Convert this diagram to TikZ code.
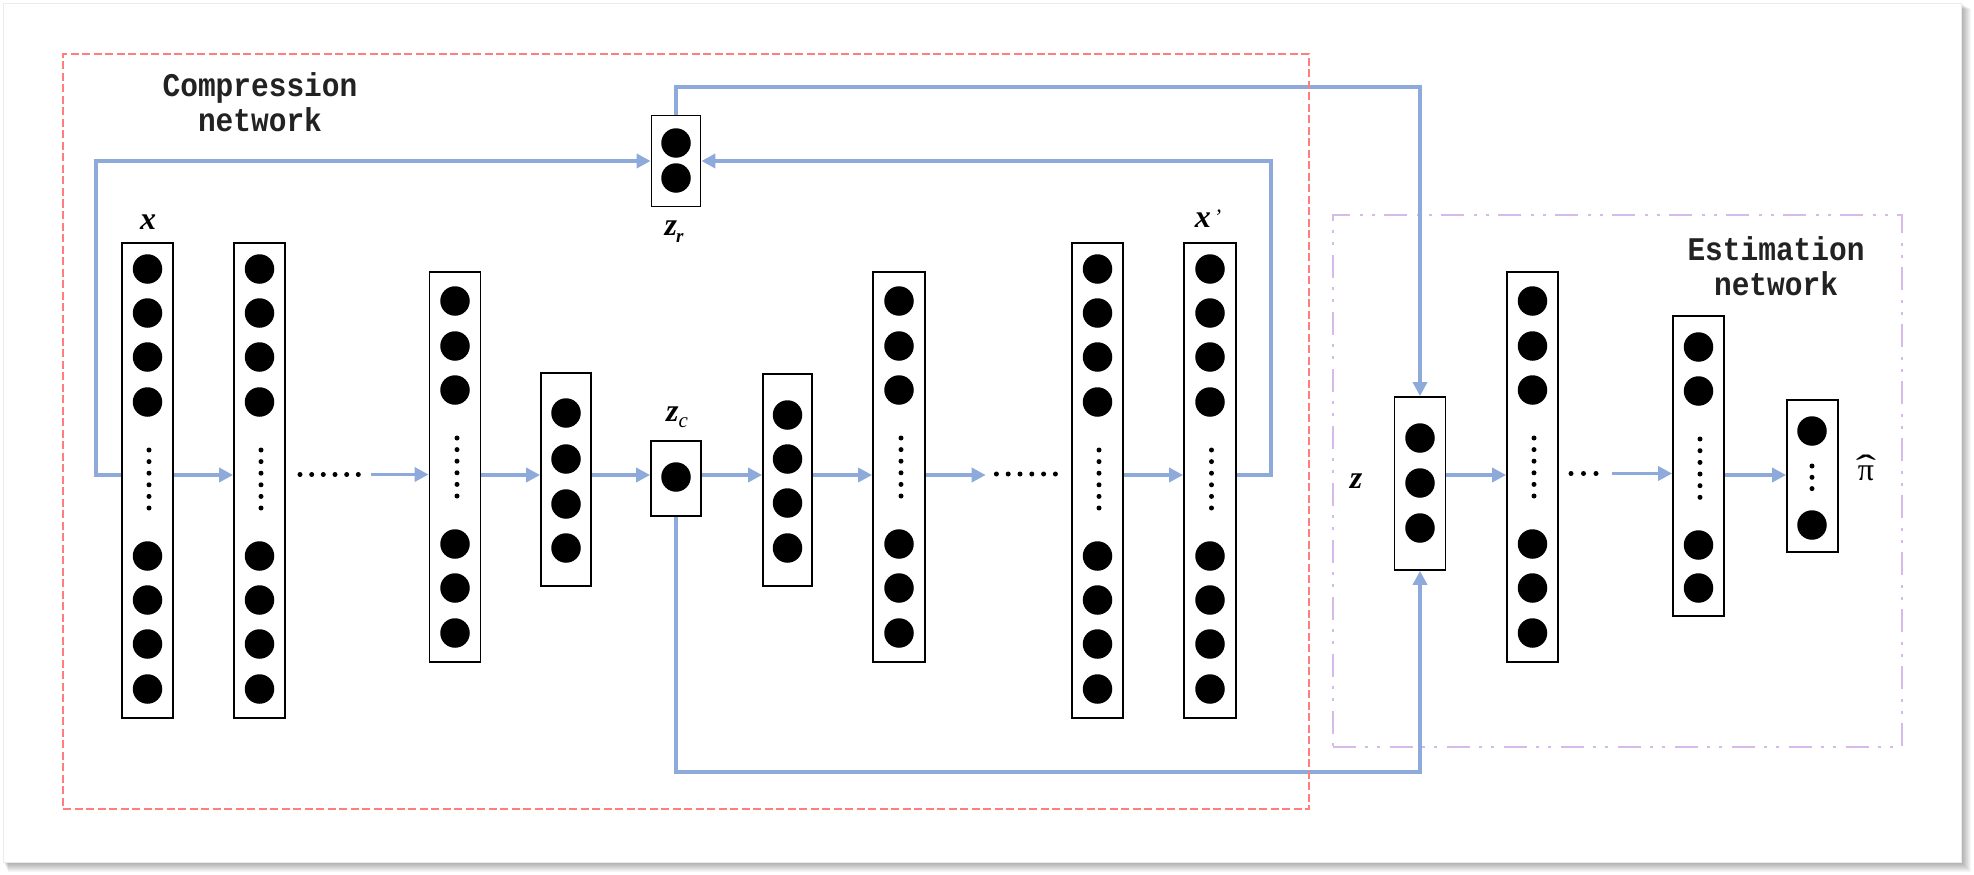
\documentclass[tikz,border=0pt]{standalone}
\usepackage{fontspec}
\usetikzlibrary{arrows.meta}
\newfontfamily\lmonofont{Liberation Mono}
\newfontfamily\lseriffont{Liberation Serif}
\definecolor{conncol}{RGB}{142,170,219}
\definecolor{redbox}{RGB}{255,125,125}
\definecolor{purplebox}{RGB}{214,186,234}
\definecolor{titlecol}{RGB}{34,34,34}
\newcommand\neurons[3]{\foreach \yy [count=\i] in {#3} \node[neuron] (#1n\i) at (#2,\yy) {};}
\newcommand\vdotsat[3]{\foreach \yy [count=\i] in {#3} \node[dotn] (#1d\i) at (#2,\yy) {};}
\newcommand\hdotsat[3]{\foreach \xx [count=\i] in {#3} \node[dotn] (#1d\i) at (\xx,#2) {};}
\begin{document}
\begin{tikzpicture}[x=1pt,y=-1pt,
  layer/.style={draw=black, line width=1.8pt, fill=white, minimum width=51pt, inner sep=0pt},
  neuron/.style={circle, fill=black, minimum size=29.5pt, inner sep=0pt},
  dotn/.style={circle, fill=black, minimum size=5pt, inner sep=0pt},
  dotgroup/.style={minimum height=6pt, inner sep=0pt},
  conn/.style={draw=conncol, line width=3.8pt},
  connarrow/.style={conn, -{Triangle[length=14pt,width=14pt]}},
  title/.style={font=\lmonofont\bfseries\fontsize{29.5}{35}\selectfont, text=titlecol, anchor=base, inner sep=0pt},
  lab/.style={font=\lseriffont\bfseries\itshape\fontsize{32}{36}\selectfont, inner sep=0pt},
]
\useasboundingbox (0,0) rectangle (1974,875);
% card with shadow
\fill[white] (0,0) rectangle (1974,875);
\foreach \k in {1,...,10} \fill[black, opacity=0.035] (3+\k*0.5,3+\k*0.6) rectangle (1961+\k,862+\k);
\draw[fill=white, draw=black!8, line width=0.8pt] (3,3) rectangle (1961,862);

% estimation frame
\node[draw=purplebox, line width=2.6pt, dash pattern=on 23pt off 9pt on 3pt off 9pt on 3pt off 10pt,
      minimum width=569pt, minimum height=532pt, inner sep=0pt] (ebox) at (1617.5,481) {};

% titles
\node[title] (ct1) at (260,96.7) {\scalebox{1}[1.12]{Compression}};
\node[title] (ct2) at (260,131.7) {\scalebox{1}[1.12]{network}};
\node[title] (et1) at (1776,260) {\scalebox{1}[1.12]{Estimation}};
\node[title] (et2) at (1776,295) {\scalebox{1}[1.12]{network}};

% compression layers
\node[layer, minimum height=475pt] (L1) at (147.5,480.5) {};
\neurons{L1}{147.5}{269,313,357,402,556,600,644,689}
\vdotsat{L1}{149}{450,461.6,473.2,484.8,496.4,508}

\node[layer, minimum height=475pt] (L2) at (259.5,480.5) {};
\neurons{L2}{259.5}{269,313,357,402,556,600,644,689}
\vdotsat{L2}{261}{450,461.6,473.2,484.8,496.4,508}

\node[dotgroup, minimum width=63pt] (hd1) at (329.2,474.5) {};
\hdotsat{hd1}{474.5}{300,311.7,323.3,335,346.7,358.3}

\node[layer, minimum height=390pt] (L3) at (455,467) {};
\neurons{L3}{455}{301,346,390,544,588,633}
\vdotsat{L3}{457}{438,449.6,461.2,472.8,484.4,496}

\node[layer, minimum height=213pt, minimum width=50pt] (L4) at (566,479.5) {};
\neurons{L4}{566}{413,459,504,548}

\node[layer, minimum height=75pt, minimum width=50pt] (zc) at (676,478.5) {};
\neurons{zc}{676}{477}

\node[layer, minimum height=91pt, minimum width=49pt] (zr) at (676,161) {};
\neurons{zr}{676}{143,178}

\node[layer, minimum height=212pt, minimum width=49pt] (L5) at (787.5,480) {};
\neurons{L5}{787.5}{415,459,503,548}

\node[layer, minimum height=390pt, minimum width=52pt] (L6) at (899,467) {};
\neurons{L6}{899}{301,346,390,544,588,633}
\vdotsat{L6}{901}{438,449.6,461.2,472.8,484.4,496}

\node[dotgroup, minimum width=64pt] (hd2) at (1025.9,474) {};
\hdotsat{hd2}{474}{996.4,1008.2,1020,1031.8,1043.6,1055.4}

\node[layer, minimum height=475pt] (L7) at (1097.5,480.5) {};
\neurons{L7}{1097.5}{269,313,357,402,556,600,644,689}
\vdotsat{L7}{1099}{450,461.6,473.2,484.8,496.4,508}

\node[layer, minimum height=475pt, minimum width=52pt] (L8) at (1210,480.5) {};
\neurons{L8}{1210}{269,313,357,402,556,600,644,689}
\vdotsat{L8}{1211.5}{450,461.6,473.2,484.8,496.4,508}

% estimation layers
\node[layer, minimum height=173pt] (z) at (1420,483.5) {};
\neurons{z}{1420}{438,483,528}

\node[layer, minimum height=390pt] (E1) at (1532.5,467) {};
\neurons{E1}{1532.5}{301,346,390,544,588,633}
\vdotsat{E1}{1534}{438,449.6,461.2,472.8,484.4,496}

\node[dotgroup, minimum width=30pt] (hd3) at (1583.5,473.5) {};
\hdotsat{hd3}{473.5}{1571,1583.5,1596}

\node[layer, minimum height=300pt] (E2) at (1698.5,466) {};
\neurons{E2}{1698.5}{347,391,545,588}
\vdotsat{E2}{1700}{439,450.7,462.4,474,485.7,497.3}

\node[layer, minimum height=152pt] (E3) at (1812.5,476) {};
\neurons{E3}{1812}{431,525}
\vdotsat{E3}{1812}{466,477.3,488.6}

% labels
\node[lab] (xlab) at (148,222) {x};
\node[lab] (xplab) at (1208,219) {x\kern3pt\raisebox{3pt}{\fontseries{m}\fontsize{22}{22}\selectfont ’}};
\node[lab] (zrlab) at (674,232) {z\kern-1pt\raisebox{-7pt}{\fontsize{19}{19}\selectfont r}};
\node[lab] (zclab) at (677,417) {z\raisebox{-6pt}{\fontseries{m}\fontsize{21}{21}\selectfont c}};
\node[lab] (zlab) at (1356,481) {z};
\node[font=\lseriffont\fontsize{32}{36}\selectfont, inner sep=0pt] (pilab) at (1866,473)
  {\ooalign{π\cr\hidewidth\raisebox{1pt}{\scalebox{1.9}[1.1]{ˆ}}\hidewidth\cr}};

% connectors
\coordinate (axis) at (0,475);
\coordinate (fbL) at (96,161);
\coordinate (fbR) at (1271,161);
\coordinate (topR) at (1420,87);
\coordinate (botR) at (1420,772);

\draw[connarrow] (L1.east |- axis) -- (L2.west |- axis);
\draw[connarrow, shorten <=10pt] (hd1.east) -- (L3.west |- hd1.east);
\draw[connarrow] (L3.east |- axis) -- (L4.west |- axis);
\draw[connarrow] (L4.east |- axis) -- (zc.west |- axis);
\draw[connarrow] (zc.east |- axis) -- (L5.west |- axis);
\draw[connarrow] (L5.east |- axis) -- (L6.west |- axis);
\draw[connarrow, shorten >=8pt] (L6.east |- axis) -- (hd2.west |- axis);
\draw[connarrow] (L7.east |- axis) -- (L8.west |- axis);
\draw[connarrow] (z.east |- axis) -- (E1.west |- axis);
\draw[connarrow, shorten <=13pt] (hd3.east) -- (E2.west |- hd3.east);
\draw[connarrow] (E2.east |- axis) -- (E3.west |- axis);

\draw[connarrow] (L1.west |- axis) -| (fbL) -- (zr.west);
\draw[connarrow] (L8.east |- axis) -| (fbR) -- (zr.east);
\draw[connarrow] (zr.north) |- (topR) -- (z.north);
\draw[connarrow] (zc.south) |- (botR) -- (z.south);

% compression frame
\node[draw=redbox, line width=2.8pt, dash pattern=on 8pt off 3.5pt,
      minimum width=1246pt, minimum height=755pt, inner sep=0pt] (cbox) at (686,431.5) {};
\end{tikzpicture}
\end{document}
